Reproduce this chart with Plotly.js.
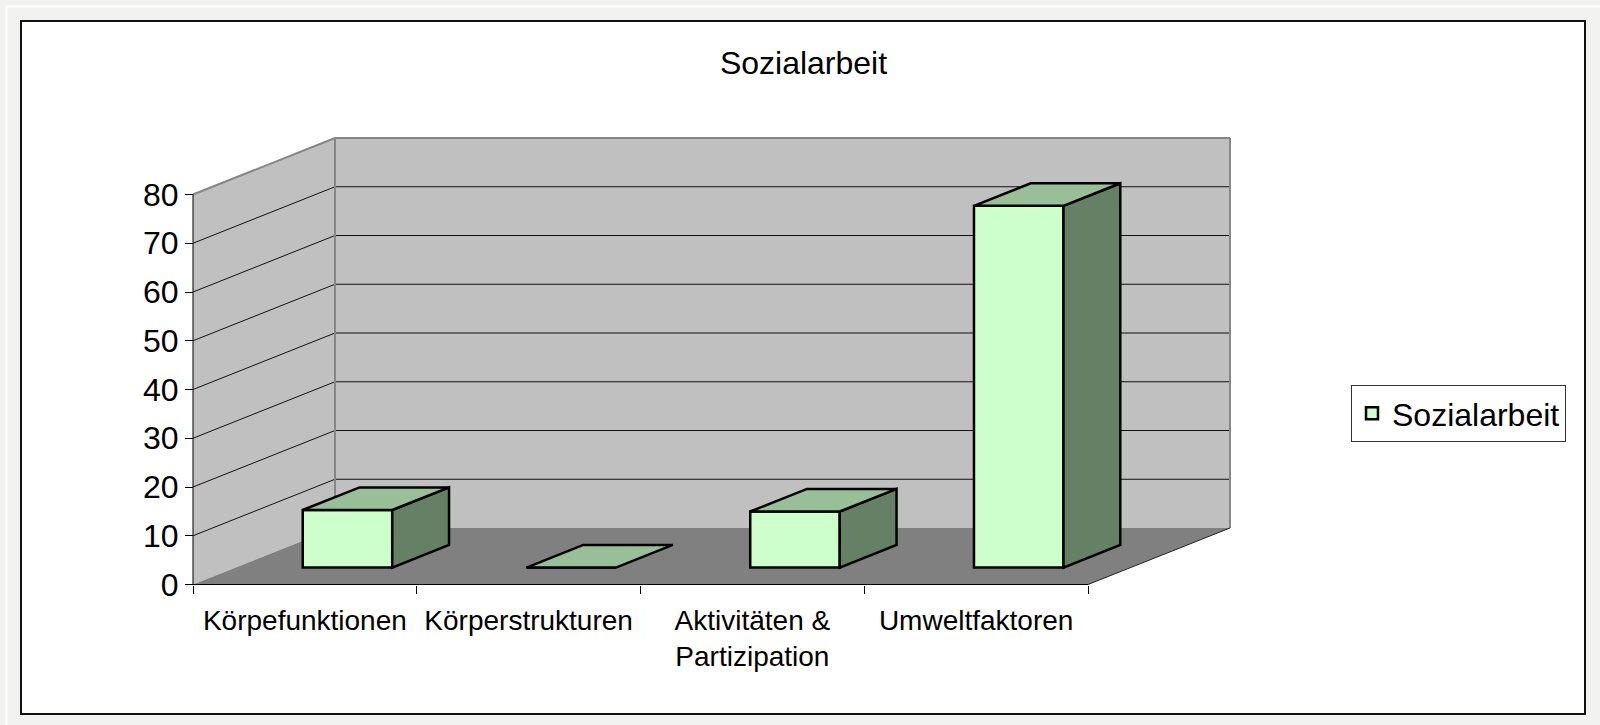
<!DOCTYPE html>
<html>
<head>
<meta charset="utf-8">
<script src="https://cdn.plot.ly/plotly-3.0.1.min.js"></script>
<style>
  html, body { margin: 0; padding: 0; overflow: hidden; background: #f2f2f0; }
  #chart { width: 1600px; height: 725px; }
</style>
</head>
<body>
<div id="chart"></div>
<script>
// ---- data ----
const chartTitle = 'Sozialarbeit';
const seriesName = 'Sozialarbeit';
const categories = ['Körpefunktionen', 'Körperstrukturen', 'Aktivitäten &<br>Partizipation', 'Umweltfaktoren'];
const values = [11.8, 0, 11.5, 74.2];
const yTicks = [0, 10, 20, 30, 40, 50, 60, 70, 80];

// ---- layout geometry (pixels) ----
const W = 1600, H = 725;
const M = { l: 173, r: 350, t: 120, b: 120 };
const plotL = M.l, plotR = W - M.r, plotT = M.t, plotB = H - M.b;
const axisX = 193;        // pixel of front-left edge (category 0)
const floorY = 584.5;     // pixel of value 0 on front edge
const catW = 223.75;      // pixels per category
const unitH = 4.875;      // pixels per value unit
const depthPX = 142, depthPY = 56.5;  // 3D depth offset in pixels

const xRange = [(plotL - axisX) / catW, (plotR - axisX) / catW];
const yRange = [(floorY - plotB) / unitH, (floorY - plotT) / unitH];
const DX = depthPX / catW, DY = depthPY / unitH;
const nCat = categories.length;
const yTop = yTicks[yTicks.length - 1];

const zf = 0.3, zb = 0.7, barW = 0.4;  // bar depth span & width fraction

// paper helpers for page decorations
const px2paperX = px => (px - plotL) / (plotR - plotL);
const px2paperY = py => (plotB - py) / (plotB - plotT);

const poly = pts => 'M ' + pts.map(p => p[0] + ',' + p[1]).join(' L ') + ' Z';
const shapes = [];

// page frame
shapes.push({ type: 'line', xref: 'paper', yref: 'paper', layer: 'below',
  x0: px2paperX(6.5), y0: px2paperY(6.5), x1: px2paperX(1600), y1: px2paperY(6.5),
  line: { color: '#ffffff', width: 2 } });
shapes.push({ type: 'line', xref: 'paper', yref: 'paper', layer: 'below',
  x0: px2paperX(6.5), y0: px2paperY(6.5), x1: px2paperX(6.5), y1: px2paperY(725),
  line: { color: '#ffffff', width: 2 } });
shapes.push({ type: 'rect', xref: 'paper', yref: 'paper', layer: 'below',
  x0: px2paperX(21), y0: px2paperY(21), x1: px2paperX(1585), y1: px2paperY(714),
  fillcolor: '#ffffff', line: { color: '#111111', width: 2 } });

// side wall
shapes.push({ type: 'path', xref: 'x', yref: 'y', layer: 'below',
  path: poly([[0, 0], [DX, DY], [DX, yTop + DY], [0, yTop]]),
  fillcolor: '#c0c0c0', line: { width: 0 } });
// back wall
shapes.push({ type: 'path', xref: 'x', yref: 'y', layer: 'below',
  path: poly([[DX, DY], [nCat + DX, DY], [nCat + DX, yTop + DY], [DX, yTop + DY]]),
  fillcolor: '#c0c0c0', line: { width: 0 } });
// floor
shapes.push({ type: 'path', xref: 'x', yref: 'y', layer: 'below',
  path: poly([[0, 0], [nCat, 0], [nCat + DX, DY], [DX, DY]]),
  fillcolor: '#808080', line: { width: 0 } });

// gridlines
yTicks.forEach(v => {
  if (v === 0 || v === yTop) return;
  shapes.push({ type: 'line', xref: 'x', yref: 'y', layer: 'below',
    x0: 0, y0: v, x1: DX, y1: v + DY, line: { color: '#111111', width: 1 } });
  shapes.push({ type: 'line', xref: 'x', yref: 'y', layer: 'below',
    x0: DX, y0: v + DY, x1: nCat + DX, y1: v + DY, line: { color: '#111111', width: 1 } });
});

// wall edges (gray)
const wallEdge = { color: '#868686', width: 2 };
[[[0, yTop], [DX, yTop + DY]],
 [[DX, yTop + DY], [nCat + DX, yTop + DY]],
 [[nCat + DX, yTop + DY], [nCat + DX, DY]],
 [[DX, DY], [DX, yTop + DY]]].forEach(s => {
  shapes.push({ type: 'line', xref: 'x', yref: 'y', layer: 'below',
    x0: s[0][0], y0: s[0][1], x1: s[1][0], y1: s[1][1], line: wallEdge });
});

// axis lines (black)
shapes.push({ type: 'line', xref: 'x', yref: 'y', layer: 'below',
  x0: 0, y0: 0, x1: 0, y1: yTop, line: { color: '#000', width: 1 } });
shapes.push({ type: 'line', xref: 'x', yref: 'y', layer: 'below',
  x0: 0, y0: 0, x1: nCat, y1: 0, line: { color: '#000', width: 1 } });
shapes.push({ type: 'line', xref: 'x', yref: 'y', layer: 'below',
  x0: nCat, y0: 0, x1: nCat + DX, y1: DY, line: { color: '#222', width: 1 } });

// bar top and side faces
const barLine = { color: '#000000', width: 2.5 };
values.forEach((v, i) => {
  const xl = i + (1 - barW) / 2, xr = i + (1 + barW) / 2;
  const fY = zf * DY, bY = zb * DY, fX = zf * DX, bX = zb * DX;
  if (v > 0) {
    shapes.push({ type: 'path', xref: 'x', yref: 'y', layer: 'above',
      path: poly([[xr + fX, fY], [xr + fX, v + fY], [xr + bX, v + bY], [xr + bX, bY]]),
      fillcolor: '#668066', line: barLine });
  }
  shapes.push({ type: 'path', xref: 'x', yref: 'y', layer: 'above',
    path: poly([[xl + fX, v + fY], [xr + fX, v + fY], [xr + bX, v + bY], [xl + bX, v + bY]]),
    fillcolor: '#99bf99', line: barLine });
});

// front faces via bar trace
const trace = {
  type: 'bar',
  name: seriesName,
  x: values.map((v, i) => i + 0.5 + zf * DX),
  y: values,
  base: values.map(() => zf * DY),
  width: values.map(() => barW),
  marker: { color: '#ccffcc', line: { color: '#000000', width: 2.5 } },
  hoverinfo: 'skip',
  showlegend: true
};

const layout = {
  width: W, height: H,
  margin: M,
  paper_bgcolor: '#f2f2f0',
  plot_bgcolor: 'rgba(0,0,0,0)',
  font: { family: '"Liberation Sans", Arial, sans-serif', color: '#000' },
  title: {
    text: chartTitle,
    font: { size: 32, color: '#000' },
    xref: 'container', yref: 'container',
    x: 803.5 / W, xanchor: 'center',
    y: 1 - 63 / H, yanchor: 'middle'
  },
  xaxis: {
    range: xRange,
    anchor: 'free',
    position: (plotB - floorY) / (plotB - plotT),
    tickmode: 'array',
    tickvals: categories.map((c, i) => i + 0.5),
    ticktext: categories,
    ticks: '',
    tickfont: { size: 28, color: '#000' },
    ticklabelstandoff: 16,
    minor: { tickmode: 'array', tickvals: categories.map((c, i) => i).concat([nCat]),
             ticks: 'outside', ticklen: 8, tickcolor: '#000', tickwidth: 1, showgrid: false },
    showgrid: false, zeroline: false, showline: false, fixedrange: true
  },
  yaxis: {
    range: yRange,
    anchor: 'free',
    position: (axisX - plotL) / (plotR - plotL),
    tickmode: 'array',
    tickvals: yTicks,
    ticktext: yTicks.map(String),
    ticks: 'outside', ticklen: 8, tickcolor: '#000', tickwidth: 1,
    tickfont: { size: 32, color: '#000' },
    showgrid: false, zeroline: false, showline: false, fixedrange: true
  },
  legend: {
    x: px2paperX(1351), xanchor: 'left',
    y: px2paperY(385), yanchor: 'top',
    bgcolor: '#ffffff', bordercolor: '#333333', borderwidth: 1,
    font: { size: 32, color: '#000' }
  },
  showlegend: true,
  shapes: shapes,
  bargap: 0
};

Plotly.newPlot('chart', [trace], layout, { displayModeBar: false, staticPlot: true });
</script>
</body>
</html>
